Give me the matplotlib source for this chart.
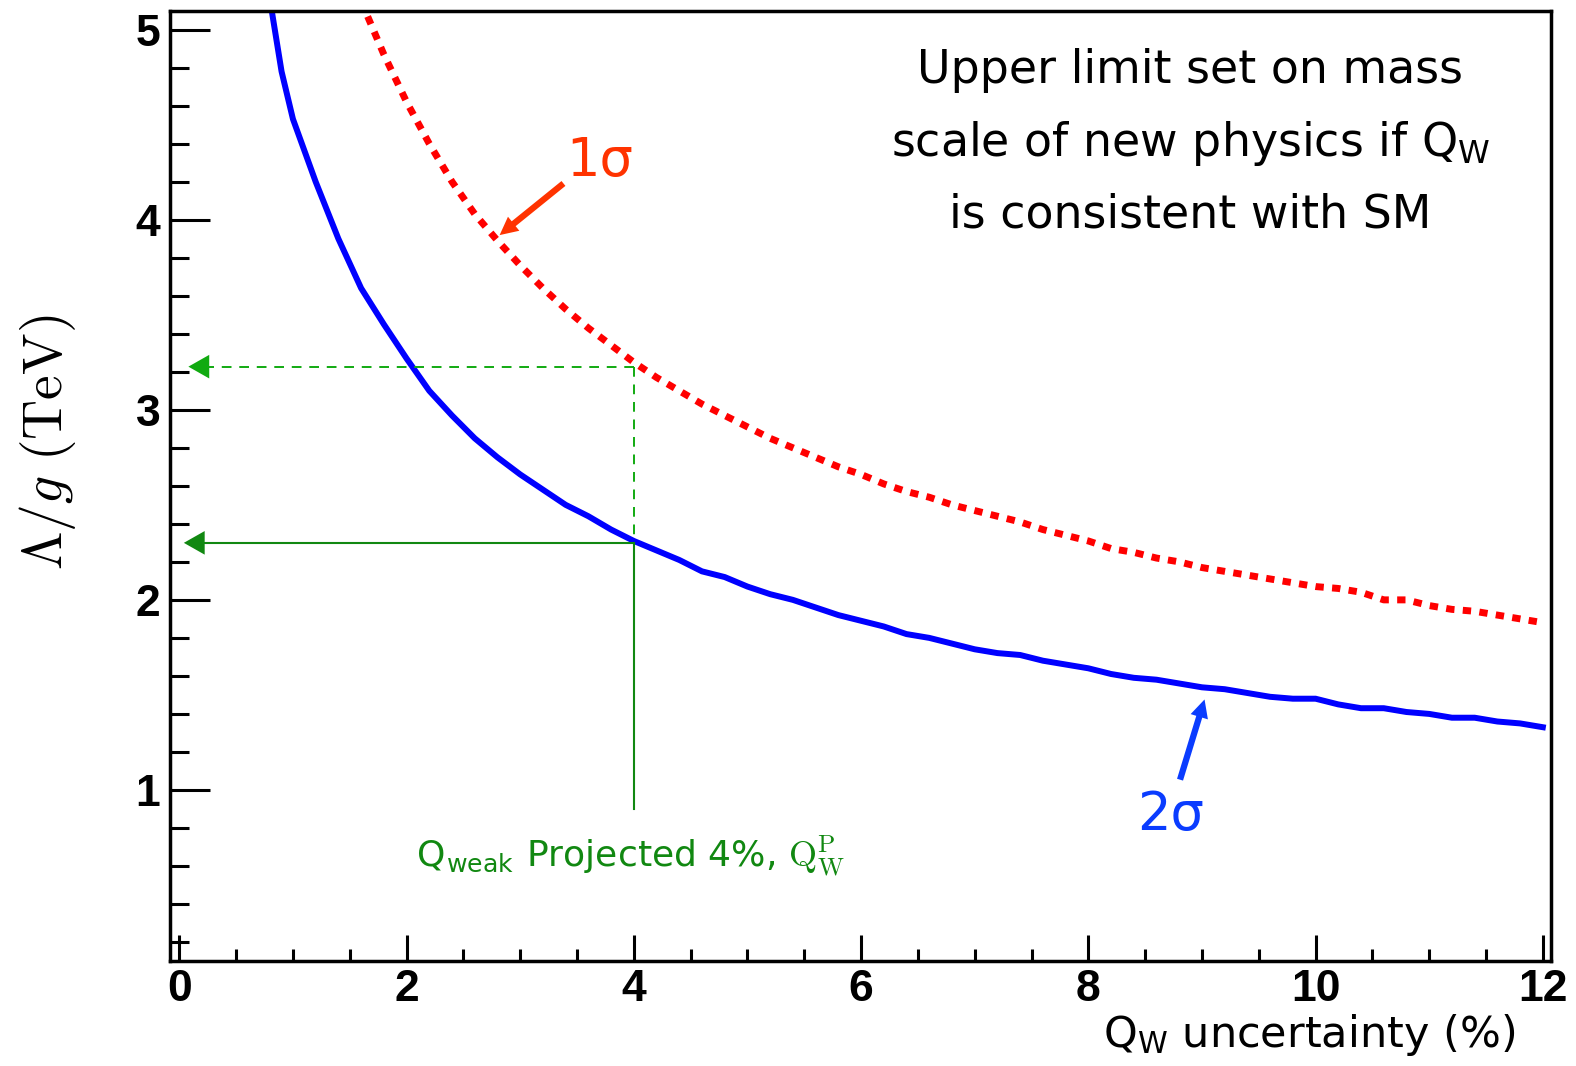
import numpy as np
import matplotlib
matplotlib.use('Agg')
import matplotlib.pyplot as plt
from matplotlib.ticker import MultipleLocator

# Q_W uncertainty (%) and Lambda/g limits (TeV)
x_2sig = [0.8, 0.9, 1.0, 1.2, 1.4, 1.6, 1.8, 2.0, 2.2, 2.4, 2.6, 2.8, 3.0, 3.2, 3.4, 3.6, 3.8,
          4.0, 4.2, 4.4, 4.6, 4.8, 5.0, 5.2, 5.4, 5.6, 5.8, 6.0, 6.2, 6.4, 6.6, 6.8, 7.0,
          7.2, 7.4, 7.6, 7.8, 8.0, 8.2, 8.4, 8.6, 8.8, 9.0, 9.2, 9.4, 9.6, 9.8, 10.0,
          10.2, 10.4, 10.6, 10.8, 11.0, 11.2, 11.4, 11.6, 11.8, 12.0]
y_2sig = [5.15, 4.78, 4.53, 4.20, 3.90, 3.64, 3.45, 3.27, 3.10, 2.97, 2.85, 2.75, 2.66, 2.58, 2.50,
          2.44, 2.37, 2.31, 2.26, 2.21, 2.15, 2.12, 2.07, 2.03, 2.00, 1.96, 1.92, 1.89, 1.86,
          1.82, 1.80, 1.77, 1.74, 1.72, 1.71, 1.68, 1.66, 1.64, 1.61, 1.59, 1.58, 1.56, 1.54,
          1.53, 1.51, 1.49, 1.48, 1.48, 1.45, 1.43, 1.43, 1.41, 1.40, 1.38, 1.38, 1.36, 1.35,
          1.33]

x_1sig = [1.6, 1.8, 2.0, 2.2, 2.4, 2.6, 2.8, 3.0, 3.2, 3.4, 3.6, 3.8, 4.0, 4.2, 4.4, 4.6,
          4.8, 5.0, 5.2, 5.4, 5.6, 5.8, 6.0, 6.2, 6.4, 6.6, 6.8, 7.0, 7.2, 7.4, 7.6, 7.8,
          8.0, 8.2, 8.4, 8.6, 8.8, 9.0, 9.2, 9.4, 9.6, 9.8, 10.0, 10.2, 10.4, 10.6, 10.8,
          11.0, 11.2, 11.4, 11.6, 11.8, 12.0]
y_1sig = [5.15, 4.87, 4.62, 4.40, 4.20, 4.03, 3.89, 3.76, 3.64, 3.53, 3.43, 3.34, 3.25, 3.17,
          3.10, 3.03, 2.97, 2.91, 2.85, 2.80, 2.75, 2.70, 2.66, 2.61, 2.57, 2.54, 2.50, 2.47,
          2.44, 2.41, 2.37, 2.34, 2.31, 2.27, 2.25, 2.22, 2.20, 2.17, 2.15, 2.13, 2.11, 2.09,
          2.07, 2.06, 2.04, 2.00, 2.00, 1.97, 1.95, 1.94, 1.92, 1.90, 1.88]

# Qweak projection: 4% uncertainty -> limits
proj_x = 4.0
proj_2sig = 2.30
proj_1sig = 3.227

fig = plt.figure(figsize=(15.76, 10.66), dpi=100)
ax = fig.add_axes([0.108, 0.0985, 0.876, 0.8915])

ax.plot(x_2sig, y_2sig, color='#0000ff', lw=4.3, solid_joinstyle='miter')
ax.plot(x_1sig, y_1sig, color='#ff0000', lw=5, linestyle=(0, (1.2, 1.2)))

# green projection lines
gd = '#11aa11'
gs = '#118811'
head = 'simple,head_length=0.75,head_width=0.85,tail_width=0.01'
ax.plot([proj_x, proj_x], [proj_1sig, proj_2sig], color=gd, lw=1.4, ls=(0, (5, 4)))
ax.plot([proj_x, 0.2], [proj_1sig, proj_1sig], color=gd, lw=1.4, ls=(0, (5, 4)))
ax.annotate('', xy=(0.08, proj_1sig), xytext=(0.3, proj_1sig),
            arrowprops=dict(arrowstyle=head, color=gd, lw=0, mutation_scale=20,
                            shrinkA=0, shrinkB=0))
ax.plot([proj_x, proj_x], [0.90, proj_2sig], color=gs, lw=1.5)
ax.plot([proj_x, 0.2], [proj_2sig, proj_2sig], color=gs, lw=1.5)
ax.annotate('', xy=(0.04, proj_2sig), xytext=(0.26, proj_2sig),
            arrowprops=dict(arrowstyle=head, color=gs, lw=0, mutation_scale=20,
                            shrinkA=0, shrinkB=0))

ax.text(2.08, 0.65, r'Q$_{\mathregular{weak}}$ Projected 4%, $\mathrm{Q_W^P}$',
        color=gs, fontsize=26, family='DejaVu Sans', math_fontfamily='cm',
        ha='left', va='center')

# sigma labels with arrows
arr = 'simple,head_length=1.3,head_width=1.3,tail_width=0.45'
ax.annotate('', xy=(2.80, 3.91), xytext=(3.40, 4.20),
            arrowprops=dict(arrowstyle=arr, color='#ff3300', lw=0))
ax.text(3.70, 4.31, '1σ', color='#ff3300', fontsize=38, family='DejaVu Sans',
        ha='center', va='center')
ax.annotate('', xy=(9.03, 1.49), xytext=(8.80, 1.04),
            arrowprops=dict(arrowstyle=arr, color='#0a3cff', lw=0))
ax.text(8.72, 0.87, '2σ', color='#0a3cff', fontsize=38, family='DejaVu Sans',
        ha='center', va='center')

ax.text(0.739, 0.861, 'Upper limit set on mass\nscale of new physics if Q$_{\\mathregular{W}}$\nis consistent with SM',
        transform=ax.transAxes, ha='center', va='center', fontsize=33,
        family='DejaVu Sans', linespacing=1.7)

ax.set_xlim(-0.08, 12.07)
ax.set_ylim(0.1, 5.1)
ax.xaxis.set_major_locator(MultipleLocator(2))
ax.xaxis.set_minor_locator(MultipleLocator(0.5))
ax.yaxis.set_major_locator(MultipleLocator(1))
ax.yaxis.set_minor_locator(MultipleLocator(0.2))
ax.set_yticks([1, 2, 3, 4, 5])
ax.tick_params(axis='y', which='major', direction='in', length=29, width=2.2, pad=7)
ax.tick_params(axis='y', which='minor', direction='in', length=14, width=2.2)
ax.tick_params(axis='x', which='major', direction='in', length=19, width=2.2, pad=6)
ax.tick_params(axis='x', which='minor', direction='in', length=9, width=2.2)
for lab in ax.get_xticklabels() + ax.get_yticklabels():
    lab.set_fontfamily('Liberation Sans')
    lab.set_fontweight('bold')
    lab.set_fontsize(32)
for sp in ax.spines.values():
    sp.set_linewidth(2.5)

ax.text(-0.089, 0.546, r'$\Lambda/g\ (\mathrm{TeV})$', transform=ax.transAxes,
        rotation=90, ha='center', va='center', fontsize=40, math_fontfamily='cm')
ax.text(0.974, -0.078, 'Q$_{\\mathregular{W}}$ uncertainty (%)', transform=ax.transAxes,
        ha='right', va='center', fontsize=31, family='DejaVu Sans')

fig.savefig('out.png', dpi=100)
